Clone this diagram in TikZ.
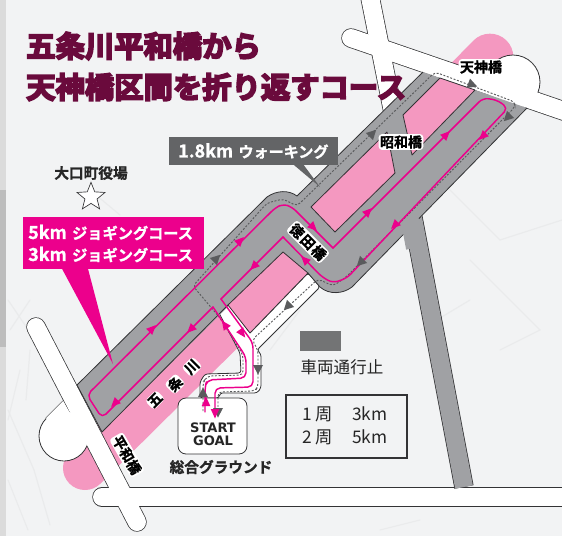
\documentclass[tikz,border=0pt]{standalone}
\usepackage{fontspec}
\usetikzlibrary{shapes.geometric}
\setmainfont{Noto Sans CJK JP}[BoldFont=Noto Sans CJK JP Bold,BoldFeatures={FakeBold=1.2}]
\newfontfamily\heavy{Noto Sans CJK JP Bold}[FakeBold=6]
\newfontfamily\latinb{DejaVu Sans}[BoldFont=DejaVu Sans Bold]
\definecolor{bgc}{HTML}{F2F3F4}
\definecolor{roadc}{HTML}{A0A1A4}
\definecolor{linec}{HTML}{333335}
\definecolor{riverc}{HTML}{F498C0}
\definecolor{coursec}{HTML}{EC008C}
\definecolor{titlec}{HTML}{6A0A3C}
\definecolor{calloutc}{HTML}{636466}
\definecolor{walkc}{HTML}{5A5B5D}
\definecolor{treec}{HTML}{EAEBEC}
\tikzset{
  edgeline/.style={draw=linec,line width=0.6pt,line join=round},
  whiteroad/.style={white,line width=13.5pt,line cap=round},
  whiteedge/.style={linec,line width=14.6pt,line cap=round},
  course/.style={draw=coursec,line width=1.1pt,line join=round,line cap=round},
  walk/.style={draw=walkc,line width=0.7pt,dash pattern=on 1.5pt off 1.2pt},
  tree/.style={draw=treec,line width=0.9pt,line cap=round},
  bridge/.style={fill=white,rounded corners=2.5pt,inner sep=1pt,font=\bfseries\fontsize{10.5pt}{11pt}\selectfont,text=black},
}
\newcommand{\ptri}[3]{\fill[coursec,shift={(#1,#2)},rotate=#3] (5.5,0)--(-4,4.3)--(-4,-4.3)--cycle;}
\newcommand{\gtri}[3]{\fill[walkc,shift={(#1,#2)},rotate=#3] (4.5,0)--(-5,5)--(-5,-5)--cycle;}
\begin{document}
\begin{tikzpicture}[x=0.75pt,y=-0.75pt]
\useasboundingbox (0,0) rectangle (562,536);
\fill[bgc] (0,0) rectangle (562,536);
% left strip and faint winter trees
\fill[black!14] (0,0) rectangle (6,536);
\fill[black!26] (0,190) rectangle (6,347);
\foreach \a/\b/\c/\d in {8/300/42/350, 10/330/30/300, 20/370/8/420, 8/410/34/470, 34/470/50/525, 8/480/28/530, 30/350/26/400, 440/180/500/240, 500/240/562/220, 470/260/540/330, 540/330/500/350, 300/310/270/350, 420/330/470/300, 120/215/90/190, 420/520/380/530}
  \draw[tree] (\a,\b) -- (\c,\d);
% river
\draw[riverc,line width=33pt,line cap=round] (85,468) -- (300,255);
\draw[riverc,line width=35pt,line cap=round] (490,57) -- (440,108);
% white roads: outlines first
\draw[whiteedge] (36,327) -- (137,522);
\draw[whiteedge] (102,497) -- (590,497);
\draw[whiteedge] (351,38) -- (590,120);
\draw[whiteedge] (369,-8) -- (393,112);
\draw[linec,line width=0.6pt,fill=white] (64,436) circle (25);
\draw[edgeline] (63,401) -- (46,418);
\fill[white] (63,401) -- (46,418) -- (64,436) -- (80,430) -- cycle;
\draw[linec,line width=0.6pt,fill=white] (513,82) circle (27);
\draw[whiteroad] (36,327) -- (137,522);
\draw[whiteroad] (102,497) -- (590,497);
\draw[whiteroad] (351,38) -- (590,120);
\draw[whiteroad] (369,-8) -- (393,112);
% white walking path
\draw[edgeline,fill=white,rounded corners=2pt] (218,311) -- (240,353) -- (241,373) -- (205,374) -- (200,382) -- (200,398) -- (219,398) -- (220,393) -- (257,393) -- (261,388) -- (261,354) -- (257,350) -- (320,287) -- (308,273) -- (250,333) -- (228,303) -- cycle;
% north-south grey road
\draw[linec,line width=14.6pt] (402,160) -- (464,487);
\draw[roadc,line width=13.5pt] (402,160) -- (464,487);
% grey road area
\fill[roadc] (77,385) -- (267,197) .. controls (277,190) and (289,190) .. (297,196) -- (423,72) -- (527,108) -- (352,287) .. controls (343,294) and (329,295) .. (320,287) -- (308,273) -- (283,252) -- (102,432) -- cycle;
\draw[edgeline] (102,432) -- (77,385) (77,385) -- (267,197) .. controls (277,190) and (289,190) .. (297,196) -- (423,72);
\draw[edgeline] (527,108) -- (352,287) .. controls (343,294) and (329,295) .. (320,287) -- (308,273);
\draw[edgeline] (102,432) -- (228,305);
\draw[roadc,line width=13.5pt] (407,205) -- (415,248);
% pink islands
\draw[edgeline,fill=riverc] (228,305) -- (283,252) -- (308,273) -- (250,333) -- cycle;
\draw[edgeline,fill=riverc] (311,207) -- (335,232) -- (395,173) -- (387,132) -- cycle;
\draw[edgeline,fill=riverc] (403,115) -- (412,155) -- (475,90) -- (440,78) -- cycle;
% START box
\node[draw=linec,line width=0.6pt,fill=white,rounded corners=6pt,minimum width=51.7pt,minimum height=42pt,inner sep=0pt] (startbox) at (212.5,426) {};
\node[font=\latinb\bfseries\fontsize{9.8pt}{10pt}\selectfont,align=center,text=black!85,inner sep=0pt] (startlabel) at (213,434) {START\\[-0.5pt]GOAL};
% walking course
\draw[walk,rounded corners=3pt] (203,411) -- (203,382) -- (208,376) -- (243,375) -- (243,355) -- (220,318) -- (193,286) -- (267,203) -- (283,199) -- (297,206) -- (435,72) -- (515,102) -- (515,107) -- (345,278) -- (333,286) -- (318,279) -- (252,340) -- (258,350) -- (258,387) -- (255,391) -- (218,392) -- (218,413);
% jogging course
\draw[course,rounded corners=4pt] (205,412) -- (205,387) -- (207,380) -- (246,378) -- (246,357) -- (213,307);
\draw[course,rounded corners=4pt] (213,307) -- (102,418) -- (87,395) -- (275,208) -- (283,204) -- (292,207) -- (333,248);
\draw[course,rounded corners=4pt] (333,248) -- (483,98) -- (497,100) -- (508,108) -- (347,278) -- (333,283) -- (322,277) -- (283,237);
\draw[course] (283,237) -- (221,299);
\draw[course,rounded corners=4pt] (221,299) -- (253,343) -- (253,387) -- (215,388) -- (215,413);
% arrowheads
\gtri{473}{85}{-20}\gtri{373}{133}{45}\gtri{507}{118}{-135}\gtri{360}{263}{-135}
\gtri{217}{258}{45}\gtri{287}{307}{-135}\gtri{258}{370}{-90}\gtri{203}{392}{90}
\gtri{218}{413}{-90}
\ptri{446}{135}{45}\ptri{483}{136}{-135}\ptri{368}{212}{45}\ptri{395}{225}{-135}
\ptri{313}{227}{-45}\ptri{305}{260}{135}\ptri{240}{241}{45}\ptri{254}{266}{-135}
\ptri{152}{329}{45}\ptri{191}{329}{-135}\ptri{115}{403}{-135}\ptri{225}{325}{125}
\ptri{242}{333}{-55}\ptri{206}{402}{90}\ptri{215}{413}{-90}
% title
\node[font=\heavy\fontsize{22pt}{22pt}\selectfont,text=titlec,anchor=west,inner sep=0pt] (title1) at (26,46) {五条川平和橋から};
\node[font=\heavy\fontsize{22pt}{22pt}\selectfont,text=titlec,anchor=west,inner sep=0pt] (title2) at (26,87) {天神橋区間を折り返すコース};
% town hall
\node[font=\bfseries\fontsize{11pt}{11pt}\selectfont,text=black!85,inner sep=0pt] (hall) at (91,173) {大口町役場};
\node[star,star points=5,star point ratio=2.3,draw=linec,line width=0.5pt,fill=white,minimum size=22pt,inner sep=0pt] (hallstar) at (91,197) {};
% jogging callout
\coordinate (jogtip) at (113,364);
\fill[coursec] (60,265) -- (87,265) -- (jogtip) -- cycle;
\node[fill=coursec,minimum width=135.75pt,minimum height=39.5pt,inner sep=0pt] (jogbox) at (113.5,243) {};
\node[font=\bfseries\fontsize{11.4pt}{16.5pt}\selectfont,text=white,align=left,anchor=west,inner sep=0pt] (joglabel) at (28,243.5) {{\fontsize{13.4pt}{16.5pt}\selectfont 5km}\hspace{4pt}ジョギングコース\\{\fontsize{13.4pt}{16.5pt}\selectfont 3km}\hspace{4pt}ジョギングコース};
% walking callout
\coordinate (walktip) at (320,187);
\fill[calloutc] (288,160) -- (300,160) -- (walktip) -- cycle;
\node[fill=calloutc,minimum width=126.75pt,minimum height=21pt,inner sep=0pt] (walkbox) at (253.5,151) {};
\node[font=\bfseries\fontsize{11.3pt}{12pt}\selectfont,text=white,anchor=west,inner sep=0pt] (walklabel) at (178,151) {{\fontsize{13.4pt}{12pt}\selectfont 1.8km}\hspace{4pt}ウォーキング};
% bridges
\node[bridge] (tenjin) at (481,67) {天神橋};
\node[bridge] (showa) at (401,142) {昭和橋};
\node[bridge,rotate=-45] (tokuda) at (308,242) {徳\hspace{1pt}田\hspace{1pt}橋};
\node[bridge,rotate=-60] (heiwa) at (127,455) {平和橋};
% river name
\node[bridge,rotate=45,inner sep=0.6pt] (river1) at (155,400) {五};
\node[bridge,rotate=45,inner sep=0.6pt] (river2) at (175,384) {条};
\node[bridge,rotate=45,inner sep=0.6pt] (river3) at (192,367) {川};
% ground label
\node[font=\bfseries\fontsize{11pt}{11pt}\selectfont,text=black!85,inner sep=0pt] (ground) at (221,467) {総合グラウンド};
% legend
\node[fill=walkc!85!white,minimum width=30.75pt,minimum height=15pt,inner sep=0pt] (legendkey) at (320.5,341) {};
\node[font=\fontsize{12.4pt}{13pt}\selectfont,text=black!85,inner sep=0pt] (legendtext) at (342,367) {車両通行止};
\node[draw=linec,line width=1.1pt,fill=bgc,minimum width=90.75pt,minimum height=47.25pt,inner sep=0pt] (lapbox) at (346.5,426.5) {};
\node[font=\fontsize{13pt}{13pt}\selectfont,text=black!85,anchor=west,inner sep=0pt] (lap1) at (302,414) {1 周\hspace{1.1em}3km};
\node[font=\fontsize{13pt}{13pt}\selectfont,text=black!85,anchor=west,inner sep=0pt] (lap2) at (302,437) {2 周\hspace{1.1em}5km};
\end{tikzpicture}
\end{document}
